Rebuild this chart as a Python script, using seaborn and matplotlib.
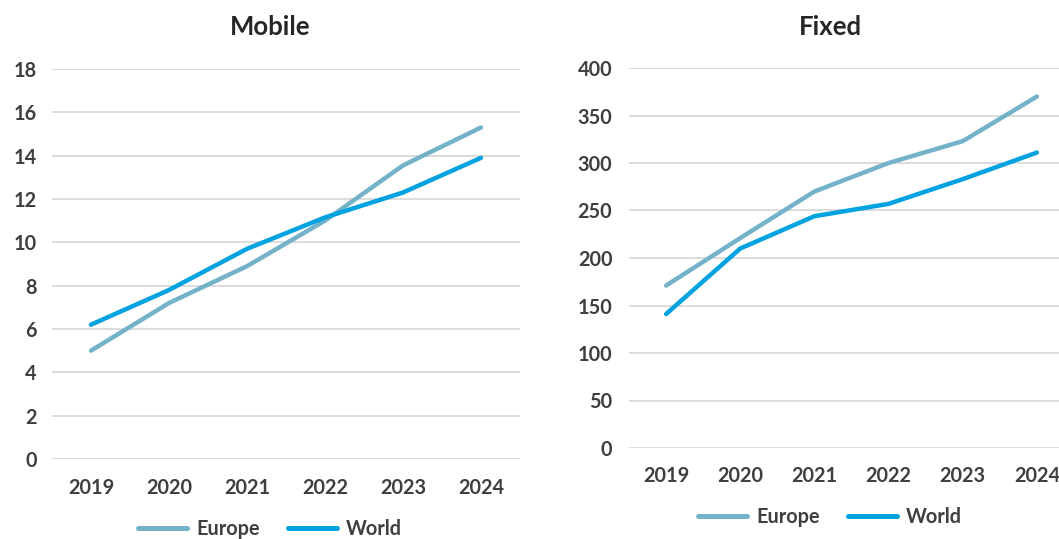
import matplotlib
matplotlib.use("Agg")
import matplotlib.pyplot as plt
import seaborn as sns
import pandas as pd
from matplotlib.lines import Line2D

years = ["2019", "2020", "2021", "2022", "2023", "2024"]
mobile_europe = [5.0, 7.2, 8.9, 11.0, 13.55, 15.3]
mobile_world = [6.2, 7.8, 9.7, 11.15, 12.3, 13.9]
fixed_europe = [171, 221, 270, 300, 323, 370]
fixed_world = [141, 210, 244, 257, 283, 311]
series = ["Europe", "World"]
colors = {"Europe": "#74B2C9", "World": "#00A3DF"}

sns.set_theme(style="white")
plt.rcParams["font.family"] = ["Lato", "DejaVu Sans"]

TXT = "#3F3F3F"
GRID = "#D9D9D9"
FS = 14.3

def long_df(eu, wo):
    return pd.DataFrame({
        "year": years * 2,
        "value": eu + wo,
        "series": ["Europe"] * len(years) + ["World"] * len(years),
    })

fig = plt.figure(figsize=(10.59, 5.39), dpi=100)
ax1 = fig.add_axes([52/1059, 1-459/539, 468/1059, 390/539])
ax2 = fig.add_axes([629/1059, 1-448/539, 445/1059, 380/539])

panels = [
    (ax1, long_df(mobile_europe, mobile_world), (0, 18), range(0, 19, 2), 11, 14),
    (ax2, long_df(fixed_europe, fixed_world), (0, 400), range(0, 401, 50), 12, 13),
]

for ax, df, ylim, yticks, ypad, xpad in panels:
    sns.lineplot(data=df, x="year", y="value", hue="series", palette=colors,
                 linewidth=3.2, ax=ax, legend=False, sort=False)
    for ln in ax.get_lines():
        ln.set_solid_capstyle("round")
        ln.set_solid_joinstyle("round")
    ax.set_ylim(*ylim)
    ax.set_yticks(list(yticks))
    ax.set_xlim(-0.5, 5.5)
    ax.grid(axis="y", color=GRID, linewidth=1.3)
    ax.set_axisbelow(True)
    for s in ax.spines.values():
        s.set_visible(False)
    ax.tick_params(axis="both", length=0, labelsize=FS, labelcolor=TXT)
    ax.tick_params(axis="y", pad=ypad)
    ax.tick_params(axis="x", pad=xpad)
    for lab in ax.get_xticklabels() + ax.get_yticklabels():
        lab.set_fontweight("bold")
    ax.set_xlabel("")
    ax.set_ylabel("")

fig.text(270/1059, 1-27/539, "Mobile", ha="center", va="center",
         fontsize=18.5, fontweight="bold", color="#262626")
fig.text(830/1059, 1-27/539, "Fixed", ha="center", va="center",
         fontsize=18.5, fontweight="bold", color="#262626")

handles = [Line2D([0], [0], color=colors[s], linewidth=3.6, solid_capstyle="round") for s in series]
for cx, cy in [(270/1059, 1-529/539), (830/1059, 1-517/539)]:
    leg = fig.legend(handles, series, loc="center", bbox_to_anchor=(cx, cy), ncol=2,
                     frameon=False, fontsize=FS, handlelength=2.5, columnspacing=1.4,
                     handletextpad=0.45)
    for t in leg.get_texts():
        t.set_color(TXT)
        t.set_fontweight("bold")

fig.savefig("out.png", dpi=100)
